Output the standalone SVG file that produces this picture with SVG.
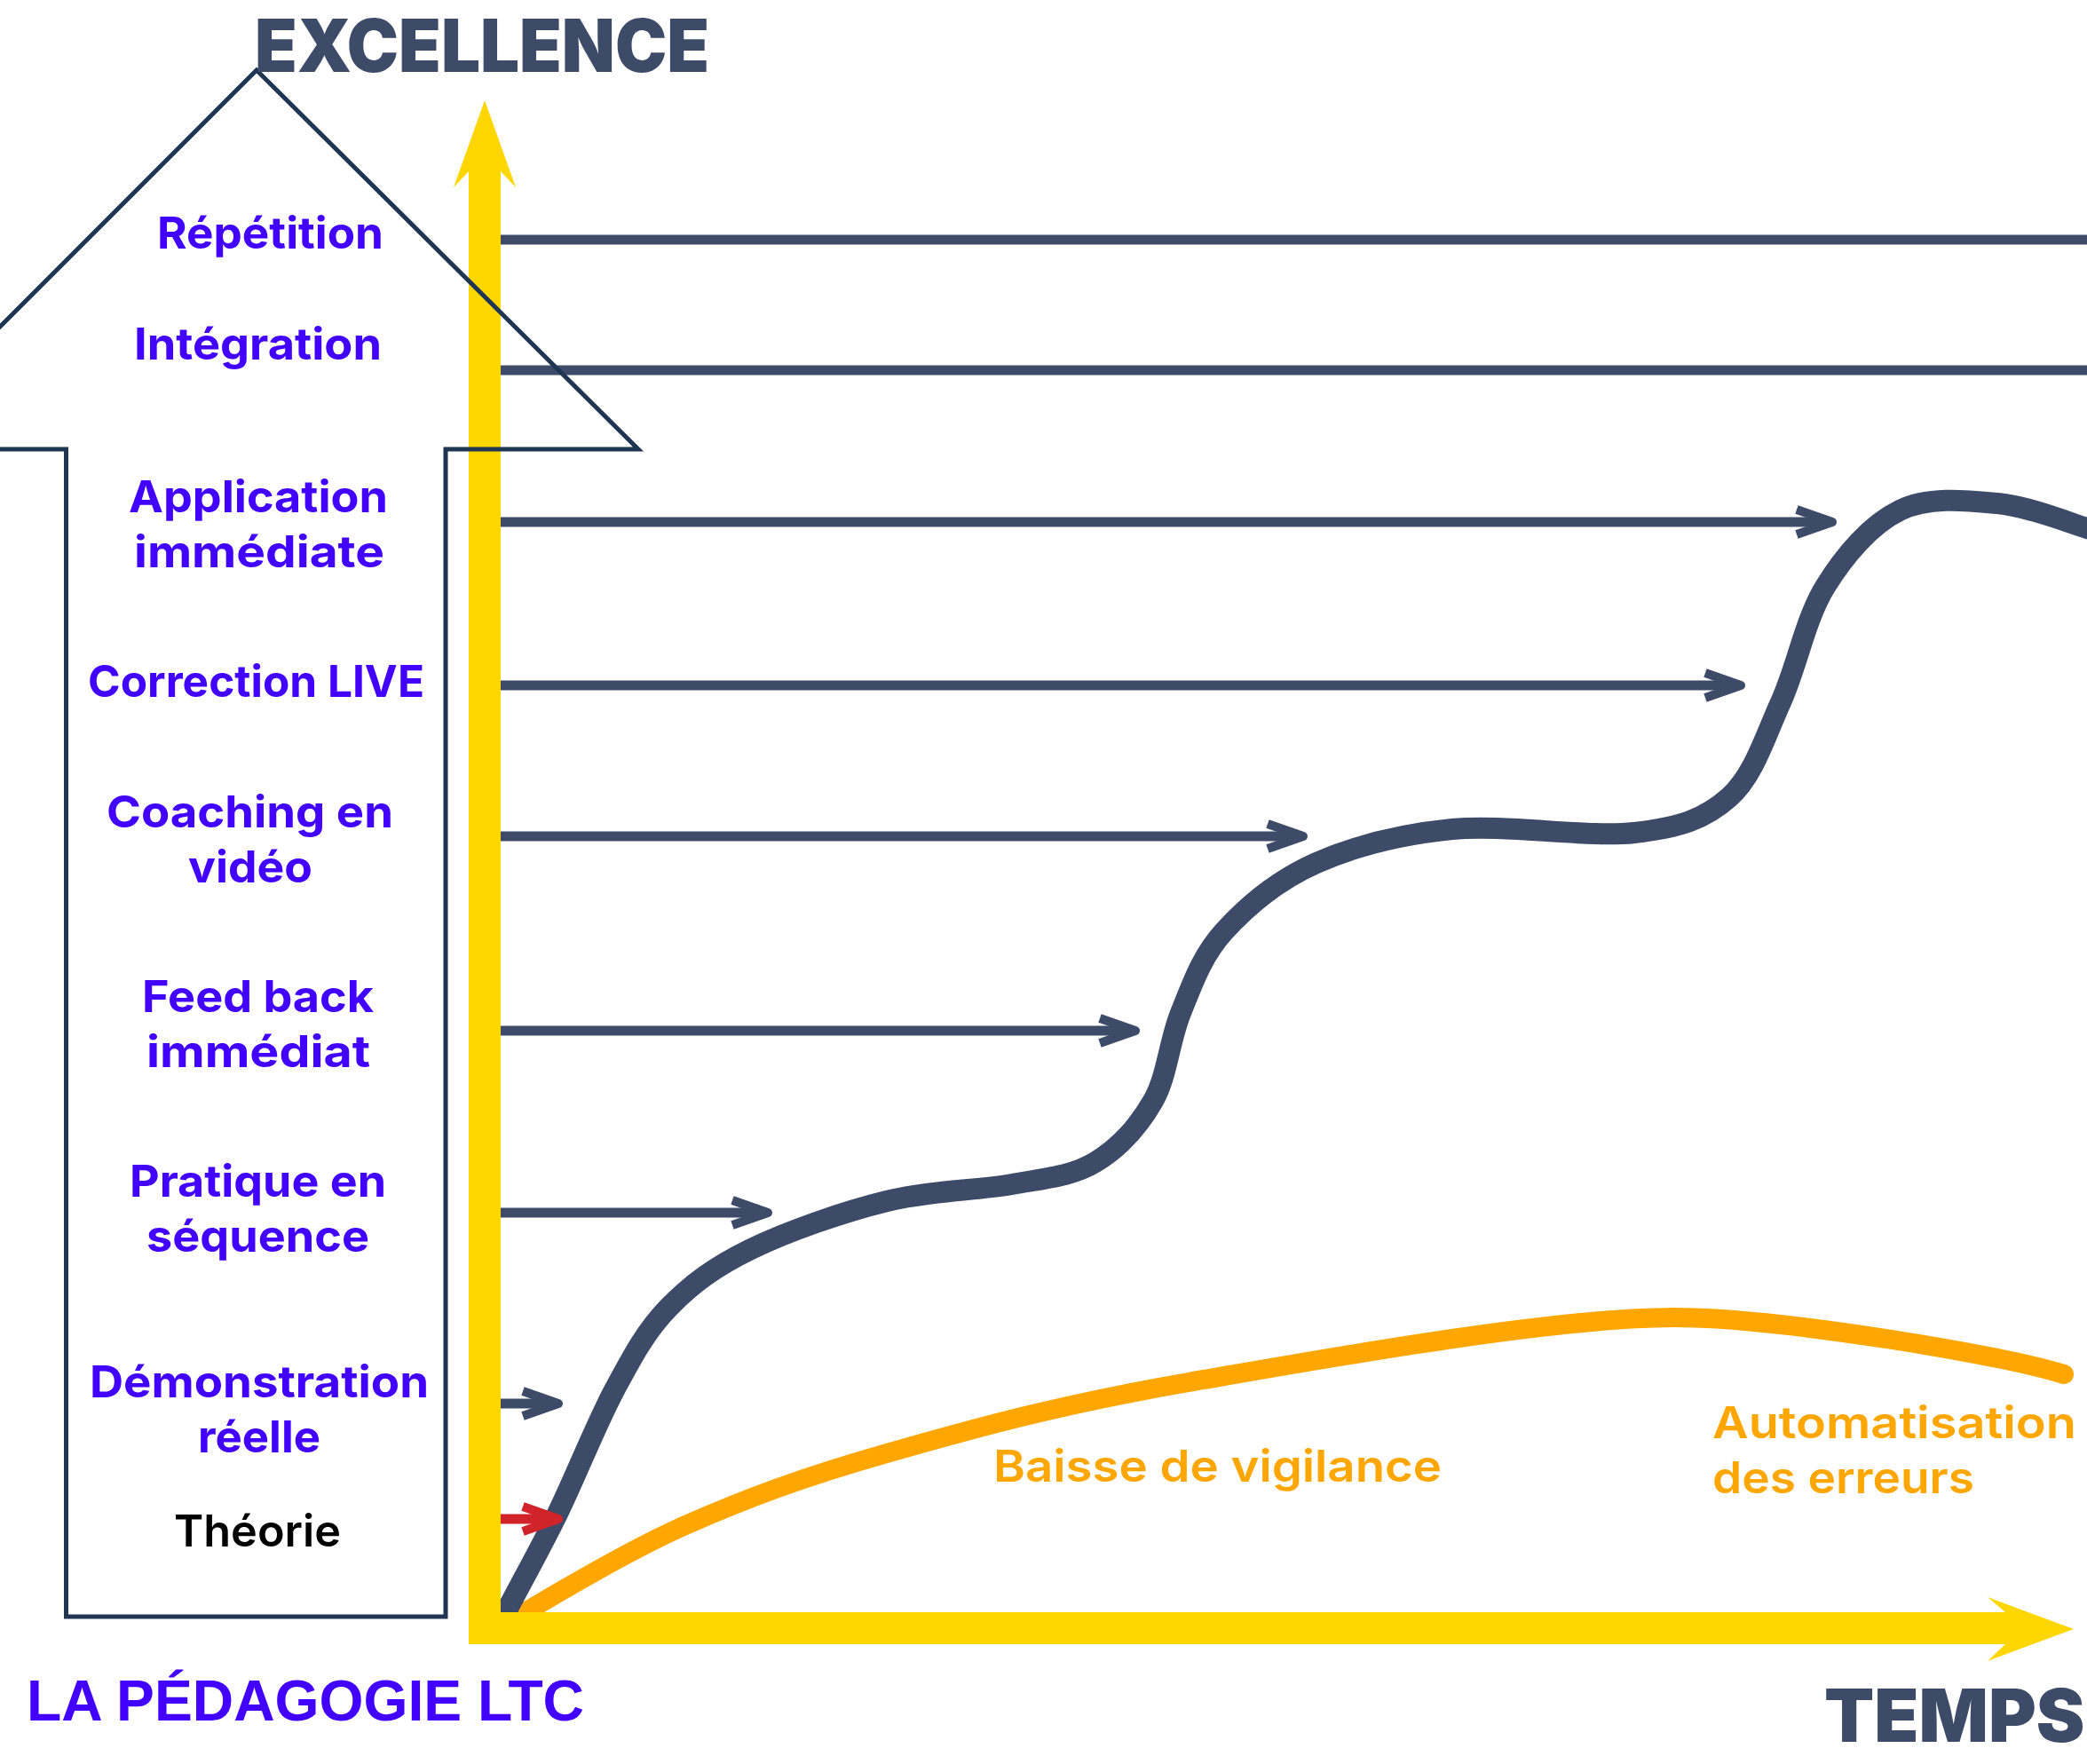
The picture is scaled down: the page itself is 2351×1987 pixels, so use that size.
<svg xmlns="http://www.w3.org/2000/svg" width="2351" height="1987" viewBox="0 0 2351 1987">
<defs>
<style>
.lbl{font-family:Inter,"Open Sans","Liberation Sans",sans-serif;font-weight:700;font-size:50px;fill:#4100ff}
.blk{font-family:Inter,"Open Sans","Liberation Sans",sans-serif;font-weight:600;font-size:50px;fill:#000}
.org{font-family:Inter,"Open Sans","Liberation Sans",sans-serif;font-weight:600;font-size:50px;fill:#ffa700}
.big{font-family:Inter,"Liberation Sans",sans-serif;font-weight:900;font-size:82px;fill:#3d4b69}
.ttl{font-family:"Liberation Sans",Arial,sans-serif;font-weight:700;font-size:64px;fill:#4100ff}
.hl{stroke:#3d4b69;stroke-width:11;fill:none}
.ar{stroke:#3d4b69;stroke-width:11;fill:none;marker-end:url(#chev)}
.arr{stroke:#d1232a;stroke-width:11;fill:none;marker-end:url(#chevr)}
</style>
<marker id="chev" markerUnits="userSpaceOnUse" viewBox="-50 -25 60 50" refX="0" refY="0" markerWidth="60" markerHeight="50" orient="auto">
<path d="M-37,-14 L3,0 L-37,14" fill="none" stroke="#3d4b69" stroke-width="10" stroke-linejoin="round"/>
</marker>
<marker id="chevr" markerUnits="userSpaceOnUse" viewBox="-50 -25 60 50" refX="0" refY="0" markerWidth="60" markerHeight="50" orient="auto">
<path d="M-37,-14 L3,0 L-37,14" fill="none" stroke="#d1232a" stroke-width="10" stroke-linejoin="round"/>
</marker>
</defs>
<rect width="2351" height="1987" fill="#fff"/>

<g id="curves">
<path id="vigilance-curve" d="M575 1826 C610 1805 700 1750 770 1719 C840 1688 904 1664 999 1637 C1094 1610 1191 1582.5 1339 1557 C1487 1531.5 1748 1484 1886 1484 C2006 1484 2265 1528 2325 1548" fill="none" stroke="#ffa700" stroke-width="22" stroke-linecap="round"/>
<path id="progress-curve" d="M562 1832 L572 1812 C581 1794 608 1746 628 1705 C648 1664 672 1603 693 1564 C714 1525 728.5 1498 754 1472 C779.5 1446 805 1427 846 1407 C887 1387 950 1365 999 1353 C1048 1341 1101 1341 1140 1334 C1179 1327 1207.5 1325 1234 1309 C1260.5 1293 1283 1268 1299 1240 C1315 1212 1317 1173 1330 1141 C1343 1109 1353.5 1077 1379 1049 C1404.5 1021 1440 991 1483 972 C1526 953 1576 940 1636 934 C1696 928 1789 944 1841 938 C1893 932 1920.5 922.5 1948 898 C1975.5 873.5 1988 830.5 2006 791 C2024 751.5 2033.7 697 2056 661 C2078 625 2107.7 590.7 2140 575 C2172 559 2215 563.7 2250 567 C2285 570 2334 590 2351 595 L2380 604" fill="none" stroke="#3d4b69" stroke-width="24"/>
</g>

<g id="axes">
<polygon points="546,113 581,211 564,193 564,1816 2259,1816 2239,1799 2336,1835 2239,1871 2259,1852 528,1852 528,193 511,211" fill="#ffd600"/>
</g>

<g id="connectors">
<line class="hl" x1="564" y1="270" x2="2351" y2="270"/>
<line class="hl" x1="564" y1="417" x2="2351" y2="417"/>
<line class="ar" x1="564" y1="588" x2="2061" y2="588"/>
<line class="ar" x1="564" y1="772" x2="1958" y2="772"/>
<line class="ar" x1="564" y1="942" x2="1465" y2="942"/>
<line class="ar" x1="564" y1="1161" x2="1276" y2="1161"/>
<line class="ar" x1="564" y1="1366" x2="862" y2="1366"/>
<line class="ar" x1="564" y1="1581" x2="626" y2="1581"/>
<line class="arr" x1="564" y1="1711" x2="626" y2="1711"/>
</g>

<g id="pedagogy-arrow">
<polygon points="-138,506 289,79 719,506 502,506 502,1821 74.5,1821 74.5,506" fill="none" stroke="#1f3552" stroke-width="5" stroke-miterlimit="10"/>
</g>

<g id="n-repetition"><text class="lbl" x="177" y="280" textLength="255" lengthAdjust="spacingAndGlyphs">Répétition</text></g>
<g id="n-integration"><text class="lbl" x="151" y="405" textLength="279" lengthAdjust="spacingAndGlyphs">Intégration</text></g>
<g id="n-application">
<text class="lbl" x="145" y="577" textLength="292" lengthAdjust="spacingAndGlyphs">Application</text>
<text class="lbl" x="151" y="639" textLength="282" lengthAdjust="spacingAndGlyphs">immédiate</text>
</g>
<g id="n-correction"><text class="lbl" x="99" y="785" textLength="379" lengthAdjust="spacingAndGlyphs">Correction LIVE</text></g>
<g id="n-coaching">
<text class="lbl" x="120" y="932" textLength="323" lengthAdjust="spacingAndGlyphs">Coaching en</text>
<text class="lbl" x="212" y="994" textLength="140" lengthAdjust="spacingAndGlyphs">vidéo</text>
</g>
<g id="n-feedback">
<text class="lbl" x="160" y="1140" textLength="261" lengthAdjust="spacingAndGlyphs">Feed back</text>
<text class="lbl" x="165" y="1202" textLength="252" lengthAdjust="spacingAndGlyphs">immédiat</text>
</g>
<g id="n-pratique">
<text class="lbl" x="146" y="1348" textLength="289" lengthAdjust="spacingAndGlyphs">Pratique en</text>
<text class="lbl" x="165" y="1410" textLength="251" lengthAdjust="spacingAndGlyphs">séquence</text>
</g>
<g id="n-demonstration">
<text class="lbl" x="101" y="1574" textLength="382" lengthAdjust="spacingAndGlyphs">Démonstration</text>
<text class="lbl" x="223" y="1636" textLength="138" lengthAdjust="spacingAndGlyphs">réelle</text>
</g>
<g id="n-theorie"><text class="blk" x="196" y="1742" textLength="188" lengthAdjust="spacingAndGlyphs">Théorie</text></g>

<g id="n-excellence"><text class="big" x="287" y="81" textLength="512" lengthAdjust="spacingAndGlyphs">EXCELLENCE</text></g>
<g id="n-temps"><text class="big" x="2055" y="1962" font-size="80">TEMPS</text></g>
<g id="n-title"><text class="ttl" x="30" y="1938" textLength="628" lengthAdjust="spacingAndGlyphs">LA PÉDAGOGIE LTC</text></g>

<g id="n-baisse"><text class="org" x="1119" y="1669" textLength="505" lengthAdjust="spacingAndGlyphs">Baisse de vigilance</text></g>
<g id="n-automatisation">
<text class="org" x="1929" y="1620" textLength="410" lengthAdjust="spacingAndGlyphs">Automatisation</text>
<text class="org" x="1929" y="1682" textLength="295" lengthAdjust="spacingAndGlyphs">des erreurs</text>
</g>
</svg>
